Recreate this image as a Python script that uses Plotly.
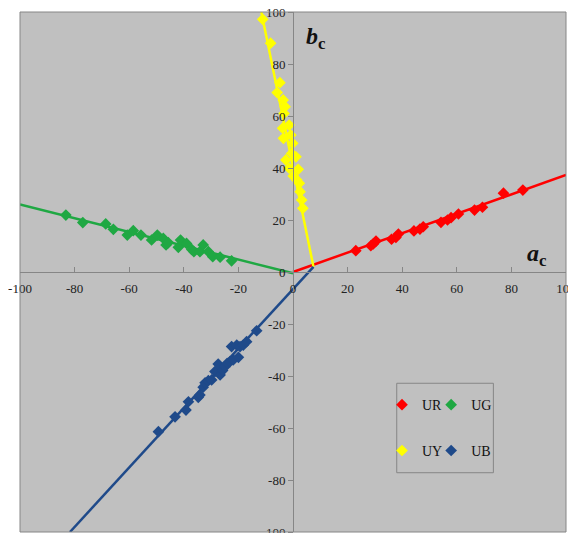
import plotly.graph_objects as go

# ---- data ----
ur_a = [23.0, 28.5, 29.4, 30.4, 36.1, 37.7, 38.6, 44.3, 46.5, 47.7, 54.2, 56.6, 57.9, 60.6, 66.5, 69.4, 77.1, 84.2]
ur_b = [8.2, 10.1, 10.8, 11.9, 12.6, 13.3, 14.6, 15.8, 16.5, 17.4, 19.1, 20.0, 20.9, 22.3, 23.8, 24.9, 30.3, 31.5]

ug_a = [-83.2, -77.0, -68.6, -65.8, -60.7, -58.5, -55.7, -51.8, -49.7, -47.5, -46.5, -45.7, -42.0, -41.2,
        -39.0, -37.1, -36.3, -34.1, -32.9, -31.0, -29.4, -26.7, -22.5]
ug_b = [21.9, 19.0, 18.5, 16.4, 14.2, 15.9, 14.2, 12.3, 14.2, 12.9, 10.4, 11.3, 9.5, 12.3,
        11.0, 8.7, 7.8, 7.8, 10.4, 7.8, 5.9, 5.7, 4.3]

uy_a = [-11.1, -8.2, -4.8, -5.8, -3.6, -2.9, -3.3, -1.4, -3.8, -0.8, -3.5, -0.1, -0.5, 1.1, -2.6, -1.4,
        1.9, 0.1, 1.4, 2.3, 2.6, 3.2, 3.6]
uy_b = [97.2, 88.0, 72.8, 69.0, 66.2, 63.6, 61.0, 56.5, 55.3, 52.7, 51.4, 49.5, 45.6, 44.3, 43.1, 39.9,
        39.5, 36.9, 35.4, 34.1, 30.9, 27.7, 24.5]

ub_a = [-49.3, -43.2, -39.2, -38.3, -34.7, -34.1, -32.9, -32.2, -31.0, -29.8, -28.6, -27.4, -26.7, -25.8,
        -24.9, -24.1, -23.1, -22.5, -21.9, -20.6, -20.0, -19.4, -18.2, -17.0, -13.3]
ub_b = [-61.4, -55.7, -53.1, -49.9, -48.2, -47.3, -44.3, -42.6, -41.8, -41.5, -38.3, -35.4, -39.6, -37.9,
        -36.4, -35.1, -34.5, -28.7, -33.8, -28.1, -32.8, -28.7, -28.1, -26.8, -22.6]

# fitted trend lines (end points)
ur_fit_a = [0, 100]
ur_fit_b = [0, 37.3]
ug_fit_a = [-100, 0]
ug_fit_b = [26.0, -0.5]
uy_fit_a = [-11.6, 7.5]
uy_fit_b = [100, 2.0]
ub_fit_a = [-81.7, 7.5]
ub_fit_b = [-100, 2.0]

tick_vals = [-100, -80, -60, -40, -20, 0, 20, 40, 60, 80, 100]
tick_text = ["-100", "-80", "-60", "-40", "-20", "0", "20", "40", "60", "80", "100"]

series = [
    ("UR", ur_a, ur_b, ur_fit_a, ur_fit_b, "#FF0000", "legend"),
    ("UG", ug_a, ug_b, ug_fit_a, ug_fit_b, "#1FA843", "legend2"),
    ("UY", uy_a, uy_b, uy_fit_a, uy_fit_b, "#FFFF00", "legend3"),
    ("UB", ub_a, ub_b, ub_fit_a, ub_fit_b, "#1F4A8A", "legend4"),
]

FONT = "Liberation Serif"
fig = go.Figure()
for name, a, b, fa, fb, col, lg in series:
    fig.add_trace(go.Scatter(x=fa, y=fb, mode="lines", line=dict(color=col, width=2.5),
                             showlegend=False, hoverinfo="skip"))
for name, a, b, fa, fb, col, lg in series:
    fig.add_trace(go.Scatter(x=a, y=b, mode="markers", name=name, legend=lg,
                             marker=dict(symbol="diamond", size=9, color=col)))

axis_common = dict(
    range=[-100, 100], tickvals=tick_vals, ticktext=tick_text, showgrid=False, zeroline=False,
    showline=True, linecolor="#868686", linewidth=1, tickcolor="#868686", ticklen=5,
    tickfont=dict(family=FONT, size=13, color="#222222"), anchor="free", position=0.5,
    automargin=False, fixedrange=True, ticklabeloverflow="allow",
)


def leg(x, y):
    return dict(orientation="h", x=x, y=y, xanchor="left", yanchor="middle",
                bgcolor="rgba(0,0,0,0)", font=dict(family=FONT, size=14, color="#111111"))


fig.update_layout(
    width=568, height=525,
    margin=dict(l=12, r=10, t=4, b=1),
    paper_bgcolor="white", plot_bgcolor="#C0C0C0",
    xaxis=dict(**axis_common, ticks="inside", ticklabelstandoff=4),
    yaxis=dict(**axis_common, ticks="outside"),
    legend=leg(0.663, 0.244),
    legend2=leg(0.753, 0.244),
    legend3=leg(0.663, 0.156),
    legend4=leg(0.753, 0.156),
    shapes=[
        dict(type="rect", xref="paper", yref="paper", x0=0, x1=1, y0=0, y1=1,
             line=dict(color="#868686", width=1), layer="above"),
        dict(type="rect", xref="paper", yref="paper", x0=0.690, x1=0.867, y0=0.114, y1=0.286,
             line=dict(color="#868686", width=1)),
    ],
    annotations=[
        dict(x=89.5, y=6.5, xref="x", yref="y", showarrow=False,
             text="<b><i>a</i></b><sub><b>c</b></sub>",
             font=dict(family=FONT, size=24, color="#111111")),
        dict(x=8.6, y=90, xref="x", yref="y", showarrow=False,
             text="<b><i>b</i></b><sub><b>c</b></sub>",
             font=dict(family=FONT, size=24, color="#111111")),
    ],
)

fig.write_html("out.html")
